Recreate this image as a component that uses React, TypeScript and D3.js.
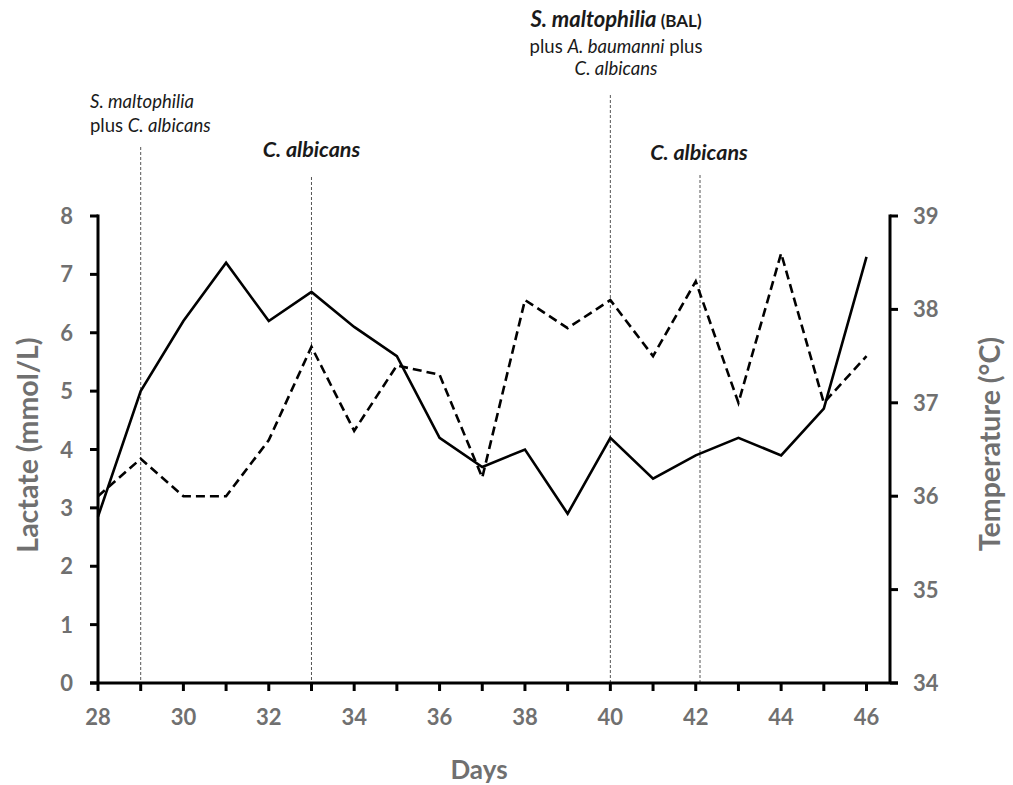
import * as d3 from "d3";

const days = [28, 29, 30, 31, 32, 33, 34, 35, 36, 37, 38, 39, 40, 41, 42, 43, 44, 45, 46];
const lactate = [2.85, 5.0, 6.2, 7.2, 6.2, 6.7, 6.1, 5.6, 4.2, 3.7, 4.0, 2.9, 4.2, 3.5, 3.9, 4.2, 3.9, 4.7, 7.3];
const temperature = [36.0, 36.4, 36.0, 36.0, 36.6, 37.6, 36.7, 37.4, 37.3, 36.2, 38.1, 37.8, 38.1, 37.5, 38.3, 37.0, 38.6, 37.0, 37.5];

const xTickLabels = [28, 30, 32, 34, 36, 38, 40, 42, 44, 46];
const lactateTicks = [0, 1, 2, 3, 4, 5, 6, 7, 8];
const tempTicks = [34, 35, 36, 37, 38, 39];

// isolates reported on these days
const markerDays = [29, 33, 40, 42.1];

const W = 1013;
const H = 785;
const margin = { top: 216, right: 123, bottom: 102, left: 98 };
const grey = "#707070";
const font = "Lato, 'Open Sans', sans-serif";

export default function App() {
  const x = d3.scaleLinear().domain([28, 46.55]).range([margin.left, W - margin.right]);
  const yL = d3.scaleLinear().domain([0, 8]).range([H - margin.bottom, margin.top]);
  const yR = d3.scaleLinear().domain([34, 39]).range([H - margin.bottom, margin.top]);

  const lactLine = d3
    .line<number>()
    .x((_, i) => x(days[i]))
    .y((d) => yL(d));
  const tempLine = d3
    .line<number>()
    .x((_, i) => x(days[i]))
    .y((d) => yR(d));

  const x0 = x(28);
  const x1 = x(46.55);
  const yb = yL(0);
  const markerTops = [147, 177, 95, 175];

  return (
    <svg
      width={W}
      height={H}
      style={{ position: "absolute", left: 0, top: 0, background: "#fff" }}
      fontFamily={font}
    >
      {/* marker lines */}
      {markerDays.map((d, i) => (
        <line
          key={d}
          x1={x(d)}
          x2={x(d)}
          y1={markerTops[i]}
          y2={yb}
          stroke="#555"
          strokeWidth={1}
          strokeDasharray="3,2"
        />
      ))}

      {/* series */}
      <path d={tempLine(temperature) || ""} fill="none" stroke="#000" strokeWidth={2.6} strokeDasharray="9,5" />
      <path d={lactLine(lactate) || ""} fill="none" stroke="#000" strokeWidth={2.6} />

      {/* axes */}
      <line x1={x0 - 8} x2={x1 + 8} y1={yb} y2={yb} stroke="#000" strokeWidth={3} />
      <line x1={x0} x2={x0} y1={yL(8) - 1.5} y2={yb} stroke="#000" strokeWidth={3} />
      <line x1={x1} x2={x1} y1={yR(39) - 1.5} y2={yb} stroke="#000" strokeWidth={3} />

      {days.map((d) => (
        <line key={d} x1={x(d)} x2={x(d)} y1={yb} y2={yb + 8} stroke="#000" strokeWidth={3} />
      ))}
      {xTickLabels.map((d) => (
        <text key={d} x={x(d)} y={yb + 42} textAnchor="middle" fontSize={22} fontWeight="bold" fill={grey}>
          {d}
        </text>
      ))}

      {lactateTicks.map((v) => (
        <g key={v}>
          <line x1={x0 - 8} x2={x0} y1={yL(v)} y2={yL(v)} stroke="#000" strokeWidth={3} />
          <text x={x0 - 25} y={yL(v) + 8} textAnchor="end" fontSize={22} fontWeight="bold" fill={grey}>
            {v}
          </text>
        </g>
      ))}

      {tempTicks.map((v) => (
        <g key={v}>
          <line x1={x1} x2={x1 + 8} y1={yR(v)} y2={yR(v)} stroke="#000" strokeWidth={3} />
          <text x={x1 + 23} y={yR(v) + 8} textAnchor="start" fontSize={22} fontWeight="bold" fill={grey}>
            {v}
          </text>
        </g>
      ))}

      {/* axis titles */}
      <text
        transform={`translate(38,445) rotate(-90)`}
        textAnchor="middle"
        fontSize={28.5}
        fontWeight="bold"
        fill={grey}
      >
        Lactate (mmol/L)
      </text>
      <text
        transform={`translate(1000,444) rotate(-90)`}
        textAnchor="middle"
        fontSize={28.5}
        fontWeight="bold"
        fill={grey}
      >
        Temperature (°C)
      </text>
      <text x={479} y={779} textAnchor="middle" fontSize={26} fontWeight="bold" fill={grey}>
        Days
      </text>

      {/* annotations */}
      <g fill="#1a1a1a" fontSize={18.5}>
        <text x={90} y={108} fontStyle="italic">
          S. maltophilia
        </text>
        <text x={90} y={132}>
          plus <tspan fontStyle="italic">C. albicans</tspan>
        </text>

        <text x={x(33)} y={157} textAnchor="middle" fontStyle="italic" fontWeight="bold" fontSize={21.5}>
          C. albicans
        </text>

        <text x={616} y={27} textAnchor="middle" fontWeight="bold" fontSize={22}>
          <tspan fontStyle="italic">S. maltophilia</tspan>
          <tspan fontSize={17}> (BAL)</tspan>
        </text>
        <text x={616} y={53} textAnchor="middle">
          plus <tspan fontStyle="italic">A. baumanni</tspan> plus
        </text>
        <text x={616} y={75} textAnchor="middle" fontStyle="italic">
          C. albicans
        </text>

        <text x={699} y={160} textAnchor="middle" fontStyle="italic" fontWeight="bold" fontSize={21.5}>
          C. albicans
        </text>
      </g>
    </svg>
  );
}
